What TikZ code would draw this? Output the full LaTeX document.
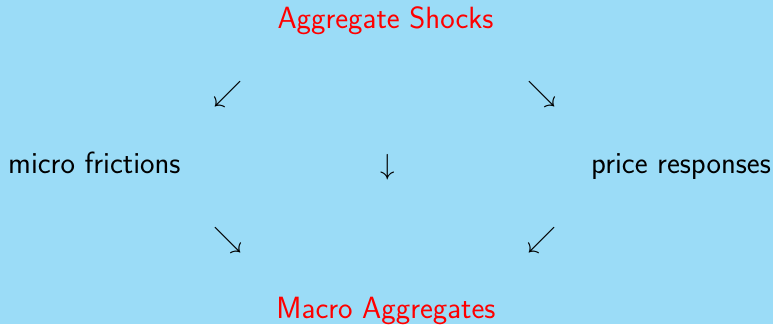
\RequirePackage{fix-cm}
\documentclass[tikz,border=0pt]{standalone}
\usepackage{xcolor}
\definecolor{slidebg}{RGB}{155,220,247}
\definecolor{titlered}{RGB}{255,0,0}
\begin{document}
\begin{tikzpicture}[x=1pt,y=-1pt,
  lbl/.style={inner sep=0pt,font=\fontsize{30.7}{36}\selectfont\sffamily},
  key/.style={lbl,text=titlered},
  glyph/.style={inner sep=0pt,font=\fontsize{29}{35}\selectfont}]
  \fill[slidebg] (0,0) rectangle (773,324);
  \useasboundingbox (0,0) rectangle (773,324);
  % top and bottom headings
  \node[key,anchor=base] (shock) at (385.5,28) {Aggregate Shocks};
  \node[key,anchor=base] (macro) at (386,318) {Macro Aggregates};
  % middle row
  \node[lbl,anchor=base west] (micro) at (8,173) {micro frictions};
  \node[lbl,anchor=base east] (price) at (771,173) {price responses};
  \node[glyph] (down) at (388,167) {$\downarrow$};
  % diagonal arrows
  \node[glyph] (ul) at (227.5,94) {$\swarrow$};
  \node[glyph] (ur) at (542,94) {$\searrow$};
  \node[glyph] (ll) at (228,240) {$\searrow$};
  \node[glyph] (lr) at (542,240) {$\swarrow$};
\end{tikzpicture}
\end{document}
